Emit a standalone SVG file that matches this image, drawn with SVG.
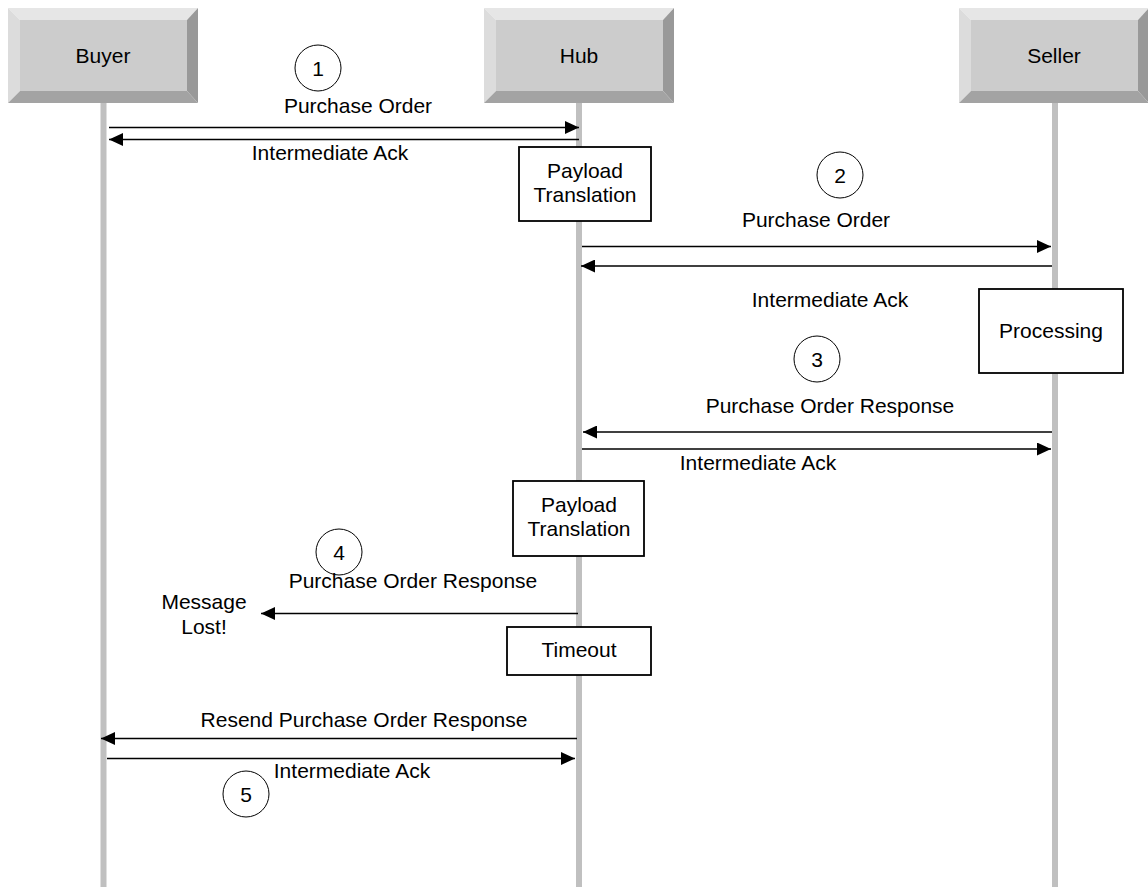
<svg xmlns="http://www.w3.org/2000/svg" width="1148" height="887" viewBox="0 0 1148 887">
<style>
text{font-family:"Liberation Sans",Arial,sans-serif;font-size:21px;fill:#000;text-anchor:middle}
.life{stroke:#c0c0c0;stroke-width:6}
.face{fill:#cccccc}
.bt{fill:#e6e6e6}
.bl{fill:#dcdcdc}
.br{fill:#999999}
.bb{fill:#a3a3a3}
.box{fill:#fff;stroke:#000;stroke-width:1.8}
.msg{stroke:#000;stroke-width:1.3;fill:none}
.num{fill:none;stroke:#000;stroke-width:1}
</style>
<defs>
<marker id="ah" viewBox="0 0 14 13" refX="14" refY="6.5" markerWidth="14" markerHeight="13" markerUnits="userSpaceOnUse" orient="auto">
<path d="M0,0 L14,6.5 L0,13 Z" fill="#000"/>
</marker>
</defs>
<g id="lifelines">
<line class="life" x1="103.5" y1="103" x2="103.5" y2="887"/>
<line class="life" x1="579" y1="103" x2="579" y2="887"/>
<line class="life" x1="1055" y1="103" x2="1055" y2="887"/>
</g>
<g id="buyer">
<polygon class="bt" points="8,8 198,8 187,20 20,20"/>
<polygon class="bl" points="8,8 20,20 20,91 8,103"/>
<polygon class="br" points="198,8 198,103 187,91 187,20"/>
<polygon class="bb" points="8,103 20,91 187,91 198,103"/>
<rect class="face" x="20" y="20" width="167" height="71"/>
<text x="103" y="63">Buyer</text>
</g>
<g id="hub">
<polygon class="bt" points="484,8 674,8 663,20 496,20"/>
<polygon class="bl" points="484,8 496,20 496,91 484,103"/>
<polygon class="br" points="674,8 674,103 663,91 663,20"/>
<polygon class="bb" points="484,103 496,91 663,91 674,103"/>
<rect class="face" x="496" y="20" width="167" height="71"/>
<text x="579" y="63">Hub</text>
</g>
<g id="seller">
<polygon class="bt" points="959,8 1149,8 1138,20 971,20"/>
<polygon class="bl" points="959,8 971,20 971,91 959,103"/>
<polygon class="br" points="1149,8 1149,103 1138,91 1138,20"/>
<polygon class="bb" points="959,103 971,91 1138,91 1149,103"/>
<rect class="face" x="971" y="20" width="167" height="71"/>
<text x="1054" y="63">Seller</text>
</g>
<g id="payload1">
<rect class="box" x="519" y="147" width="132" height="74"/>
<text x="585" y="178">Payload</text>
<text x="585" y="202">Translation</text>
</g>
<g id="processing">
<rect class="box" x="979" y="289" width="144" height="84"/>
<text x="1051" y="338">Processing</text>
</g>
<g id="payload2">
<rect class="box" x="513" y="481" width="131" height="75"/>
<text x="579" y="512">Payload</text>
<text x="579" y="536">Translation</text>
</g>
<g id="timeout">
<rect class="box" x="507" y="627" width="144" height="48"/>
<text x="579" y="657">Timeout</text>
</g>
<g id="step1"><circle class="num" cx="318" cy="68" r="23"/><text x="318" y="76">1</text></g>
<g id="step2"><circle class="num" cx="840" cy="175" r="23"/><text x="840" y="183">2</text></g>
<g id="step3"><circle class="num" cx="817" cy="359" r="23"/><text x="817" y="367">3</text></g>
<g id="step4"><circle class="num" cx="339" cy="552" r="23"/><text x="339" y="560">4</text></g>
<g id="step5"><circle class="num" cx="246" cy="794" r="23"/><text x="246" y="802">5</text></g>
<g id="connectors">
<line class="msg" x1="109" y1="127.5" x2="579" y2="127.5" marker-end="url(#ah)"/>
<line class="msg" x1="579" y1="139.5" x2="109" y2="139.5" marker-end="url(#ah)"/>
<line class="msg" x1="582" y1="246.5" x2="1051" y2="246.5" marker-end="url(#ah)"/>
<line class="msg" x1="1052" y1="266" x2="581" y2="266" marker-end="url(#ah)"/>
<line class="msg" x1="1052" y1="432" x2="583" y2="432" marker-end="url(#ah)"/>
<line class="msg" x1="582" y1="449" x2="1051" y2="449" marker-end="url(#ah)"/>
<line class="msg" x1="578" y1="613.5" x2="261" y2="613.5" marker-end="url(#ah)"/>
<line class="msg" x1="577" y1="738.5" x2="101" y2="738.5" marker-end="url(#ah)"/>
<line class="msg" x1="107" y1="758.5" x2="575" y2="758.5" marker-end="url(#ah)"/>
</g>
<g id="labels">
<text x="358" y="113">Purchase Order</text>
<text x="330" y="160">Intermediate Ack</text>
<text x="816" y="227">Purchase Order</text>
<text x="830" y="307">Intermediate Ack</text>
<text x="830" y="413">Purchase Order Response</text>
<text x="758" y="470">Intermediate Ack</text>
<text x="413" y="588">Purchase Order Response</text>
<text x="204" y="609">Message</text>
<text x="204" y="634">Lost!</text>
<text x="364" y="727">Resend Purchase Order Response</text>
<text x="352" y="778">Intermediate Ack</text>
</g>
</svg>
